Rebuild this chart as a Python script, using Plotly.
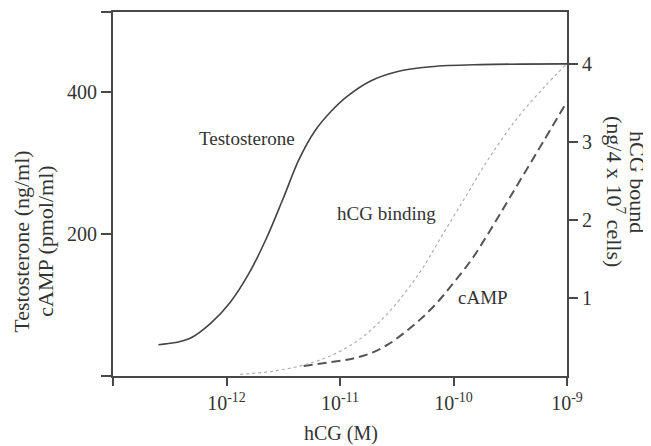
import plotly.graph_objects as go

# hCG concentration as log10(M)
testo_log = [-12.60, -12.45, -12.32, -12.14, -11.97, -11.80, -11.65, -11.50, -11.36, -11.22, -11.08, -10.94, -10.73, -10.50, -10.20, -9.76, -9.00]
testo_val = [44, 47, 53, 74, 103, 145, 193, 250, 305, 345, 372, 393, 415, 428, 435, 438, 439]

binding_log = [-11.88, -11.60, -11.32, -11.05, -10.80, -10.55, -10.30, -10.10, -9.90, -9.70, -9.45, -9.20, -9.00]
binding_val = [0.02, 0.06, 0.14, 0.28, 0.50, 0.85, 1.32, 1.80, 2.28, 2.76, 3.28, 3.70, 4.0]

camp_log = [-11.32, -11.10, -10.90, -10.73, -10.58, -10.44, -10.29, -10.14, -9.99, -9.84, -9.68, -9.50, -9.26, -9.00]
camp_val = [14, 19, 24, 32, 44, 60, 80, 104, 133, 164, 204, 252, 316, 386]

x_tick_exp = [-13, -12, -11, -10, -9]
x_tick_text = ["", "10<sup>-12</sup>", "10<sup>-11</sup>", "10<sup>-10</sup>", "10<sup>-9</sup>"]
left_ticks = [0, 200, 400, 512]
left_tick_text = ["", "200", "400", ""]
right_ticks = [1, 2, 3, 4]

def conc(exps):
    return [10 ** e for e in exps]

FONT = "Liberation Serif, Times New Roman, serif"
AX = "#484848"
TXT = "#333333"

# page body has an 8px margin; plot area should span x 113..567, y 10..376 on the page
OFF = 8
W, H = 651 - OFF, 446 - OFF
L, R, T, B = 113 - OFF, 651 - 567, 10 - OFF, 446 - 376
PW, PH = W - L - R, H - T - B

def px(xpage):
    return (xpage - OFF - L) / PW

def py(ypage):
    return (H - B - (ypage - OFF)) / PH

fig = go.Figure()
fig.add_trace(go.Scatter(x=conc(testo_log), y=testo_val, mode="lines",
                         line=dict(color="#444444", width=1.6, shape="spline", smoothing=1.0), yaxis="y"))
fig.add_trace(go.Scatter(x=conc(binding_log), y=binding_val, mode="lines",
                         line=dict(color="#b0b0b0", width=1.2, dash="dot", shape="spline", smoothing=1.0), yaxis="y2"))
fig.add_trace(go.Scatter(x=conc(camp_log), y=camp_val, mode="lines",
                         line=dict(color="#555555", width=2, dash="9px,5px", shape="spline", smoothing=1.0), yaxis="y"))

fig.update_layout(
    width=W, height=H,
    margin=dict(l=L, r=R, t=T, b=B),
    paper_bgcolor="white", plot_bgcolor="white",
    showlegend=False,
    font=dict(family=FONT, size=20, color=TXT),
    xaxis=dict(type="log", range=[-13, -9], tickvals=conc(x_tick_exp), ticktext=x_tick_text,
               showgrid=False, zeroline=False, showline=True, linecolor=AX, linewidth=2,
               mirror=True, ticks="outside", ticklen=8, tickcolor=AX, tickwidth=1.5,
               tickfont=dict(size=20)),
    yaxis=dict(range=[0, 512], tickvals=left_ticks, ticktext=left_tick_text,
               showgrid=False, zeroline=False, showline=True, linecolor=AX, linewidth=2,
               ticks="outside", ticklen=10, tickcolor=AX, tickwidth=1.5, tickfont=dict(size=20)),
    yaxis2=dict(range=[0, 4.66], tickvals=right_ticks, overlaying="y", side="right",
                showgrid=False, zeroline=False, showline=True, linecolor=AX, linewidth=2,
                ticks="outside", ticklen=9, tickcolor=AX, tickwidth=1.5, tickfont=dict(size=20)),
)

def ann(text, xpage, ypage, size=19, **kw):
    fig.add_annotation(text=text, x=px(xpage), y=py(ypage), xref="paper", yref="paper",
                       showarrow=False, xanchor="center", yanchor="middle",
                       font=dict(family=FONT, size=size, color=TXT), **kw)

ann("Testosterone", 247, 137)
ann("hCG binding", 386, 213)
ann("cAMP", 483, 297)
ann("hCG (M)", 341, 434, size=20)
ann("Testosterone (ng/ml)", 22, 241, size=22, textangle=-90)
ann("cAMP (pmol/ml)", 46, 241, size=22, textangle=-90)
ann("hCG bound", 638, 181, size=22, textangle=90)
ann("(ng/4 x 10<sup>7</sup> cells)", 616, 190, size=22, textangle=90)

fig.write_html("out.html")
